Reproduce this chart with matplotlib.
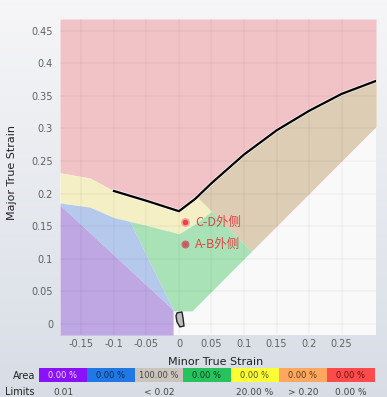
import numpy as np
import matplotlib
matplotlib.use("Agg")
import matplotlib.pyplot as plt
import matplotlib.patheffects as pe

# forming limit curve (black line)
flc_minor = [-0.1, -0.05, 0.0, 0.025, 0.05, 0.1, 0.15, 0.2, 0.25, 0.303]
flc_major = [0.204, 0.189, 0.173, 0.192, 0.216, 0.260, 0.297, 0.327, 0.353, 0.373]
# crack boundary continued to the left of the drawn curve
ext_minor = [-0.183, -0.137]
ext_major = [0.232, 0.224]

safety_margin = 0.20      # risk of crack: below FLC * (1 - margin)
thinning_sum = 0.223      # excessive thinning: major + minor > ln(1/0.8)
min_major = 0.02          # insufficient stretching
# wrinkles / wrinkling tendency boundaries (two points each)
wrinkle_minor = [-0.183, -0.009]
wrinkle_major = [0.1825, 0.0215]
tendency_minor = [-0.0754, -0.0088]
tendency_major = [0.157, 0.0215]

# formed part (measured points cloud)
cloud_minor = [-0.003, 0.0046, 0.0062, 0.0077, 0.0015, -0.0031, -0.0046]
cloud_major = [0.0169, 0.0184, 0.0092, -0.0031, -0.0046, 0.0031, 0.0123]

point_names = ["C-D外侧", "A-B外侧"]
point_minor = [0.0092, 0.0092]
point_major = [0.156, 0.122]

x_ticks = [-0.15, -0.1, -0.05, 0, 0.05, 0.1, 0.15, 0.2, 0.25]
y_ticks = [0, 0.05, 0.1, 0.15, 0.2, 0.25, 0.3, 0.35, 0.4, 0.45]

area_labels = ["0.00 %", "0.00 %", "100.00 %", "0.00 %", "0.00 %", "0.00 %", "0.00 %"]
limit_labels = ["0.01", "", "< 0.02", "", "20.00 %", "> 0.20", "0.00 %"]
box_colors = ["#8a12fb", "#1f78e4", "#cbc4bd", "#25c25e", "#fdfd35", "#ffa75f", "#fd4b4b"]
box_text = ["#f4dcff", "#0c2a5a", "#444444", "#0f3a1c", "#555522", "#5a3a1a", "#6a1010"]

XLIM = (-0.183, 0.303)
YLIM = (-0.017, 0.468)


def line(px, py, xs):
    slope = (py[1] - py[0]) / (px[1] - px[0])
    return py[0] + (xs - px[0]) * slope


fig = plt.figure(figsize=(3.87, 3.97), dpi=100)

# soft grey background gradient
bg = fig.add_axes([0, 0, 1, 1], zorder=-10)
grad = np.linspace(0, 1, 256)[:, None]
top = np.array([0.965, 0.965, 0.972])
bot = np.array([0.845, 0.866, 0.900])
img = top[None, None, :] * (1 - grad[:, :, None]) + bot[None, None, :] * grad[:, :, None]
bg.imshow(img, aspect="auto", extent=[0, 1, 0, 1])
bg.axis("off")

ax = fig.add_axes([60 / 387, 1 - 335 / 397, 316 / 387, 316 / 397])
ax.set_facecolor("#f9f9f9")

xs = np.linspace(XLIM[0], XLIM[1], 3000)
flc_all = np.interp(xs, ext_minor + flc_minor, ext_major + flc_major)
safe_top = flc_all * (1 - safety_margin)
wr = line(wrinkle_minor, wrinkle_major, xs)
un = line(tendency_minor, tendency_major, xs)
thin = thinning_sum - xs

# crack
ax.fill_between(xs, flc_all, YLIM[1], color="#f1c3c7", lw=0)
# risk of crack
low = np.maximum(safe_top, xs)
ax.fill_between(xs, low, flc_all, where=low < flc_all, color="#f5efc5", lw=0, interpolate=True)
# excessive thinning
low = np.maximum(xs, thin)
ax.fill_between(xs, low, flc_all, where=(low < flc_all) & (xs > 0), color="#dccdb4", lw=0,
                interpolate=True)
# safe
low = np.maximum(np.maximum(un, xs), min_major)
up = np.minimum(safe_top, thin)
ax.fill_between(xs, low, up, where=low < up, color="#a9e2b7", lw=0, interpolate=True)
# wrinkling tendency
up = np.minimum(safe_top, un)
ax.fill_between(xs, wr, up, where=(wr < up) & (xs <= tendency_minor[1]), color="#b5c9ec", lw=0,
                interpolate=True)
# wrinkles
up = np.minimum(wr, safe_top)
ax.fill_between(xs, YLIM[0], up, where=xs <= wrinkle_minor[1], color="#bea7e2", lw=0)

ax.plot(flc_minor, flc_major, color="black", lw=1.6, zorder=4,
        path_effects=[pe.Stroke(linewidth=2.8, foreground="white", alpha=0.6), pe.Normal()])

ax.fill(cloud_minor, cloud_major, facecolor="#bdbdbd", edgecolor="#222222", lw=1.0, zorder=5)

ax.plot(point_minor[0], point_major[0], "o", ms=5, color="#e8413f", mec="#f39a98", mew=1.2, zorder=6)
ax.plot(point_minor[1], point_major[1], "o", ms=5, color="#c06060", mec="#c87070", mew=0.8, zorder=6)
for name, mx, my in zip(point_names, point_minor, point_major):
    ax.text(mx + 0.016, my, name, color="#e04646", fontsize=9, va="center", ha="left",
            family=["Noto Sans CJK SC", "DejaVu Sans"], zorder=6)

ax.set_xlim(*XLIM)
ax.set_ylim(*YLIM)
ax.set_xticks(x_ticks)
ax.set_xticklabels([f"{v:g}" for v in x_ticks])
ax.set_yticks(y_ticks)
ax.set_yticklabels([f"{v:g}" for v in y_ticks])
ax.tick_params(length=0, labelsize=7, colors="#606060")
ax.tick_params(axis="x", pad=3)
ax.tick_params(axis="y", pad=5)
ax.grid(True, color="black", alpha=0.03, lw=1.3)
ax.set_axisbelow(False)
for s in ax.spines.values():
    s.set_visible(False)

fig.text(216 / 387, 1 - 362 / 397, "Minor True Strain", ha="center", va="center", fontsize=8,
         color="#222222")
fig.text(12 / 387, 1 - 172 / 397, "Major True Strain", ha="center", va="center", fontsize=8,
         color="#222222", rotation=90)

# area / limits legend
lax = fig.add_axes([39 / 387, 1 - 382 / 397, 336 / 387, 14 / 397])
lax.bar(np.arange(len(area_labels)), [1] * len(area_labels), width=1, align="edge", color=box_colors)
lax.set_xlim(0, len(area_labels))
lax.set_ylim(0, 1)
lax.axis("off")
for i, (a, l) in enumerate(zip(area_labels, limit_labels)):
    lax.text(i + 0.5, 0.5, a, ha="center", va="center", fontsize=6, color=box_text[i])
    lax.text(i + 0.5, -0.72, l, ha="center", va="center", fontsize=6.5, color="#444444", clip_on=False)

fig.text(35 / 387, 1 - 376 / 397, "Area", ha="right", va="center", fontsize=7, color="#222222")
fig.text(34 / 387, 1 - 392 / 397, "Limits", ha="right", va="center", fontsize=7, color="#222222")

fig.savefig("out.png", dpi=100)
